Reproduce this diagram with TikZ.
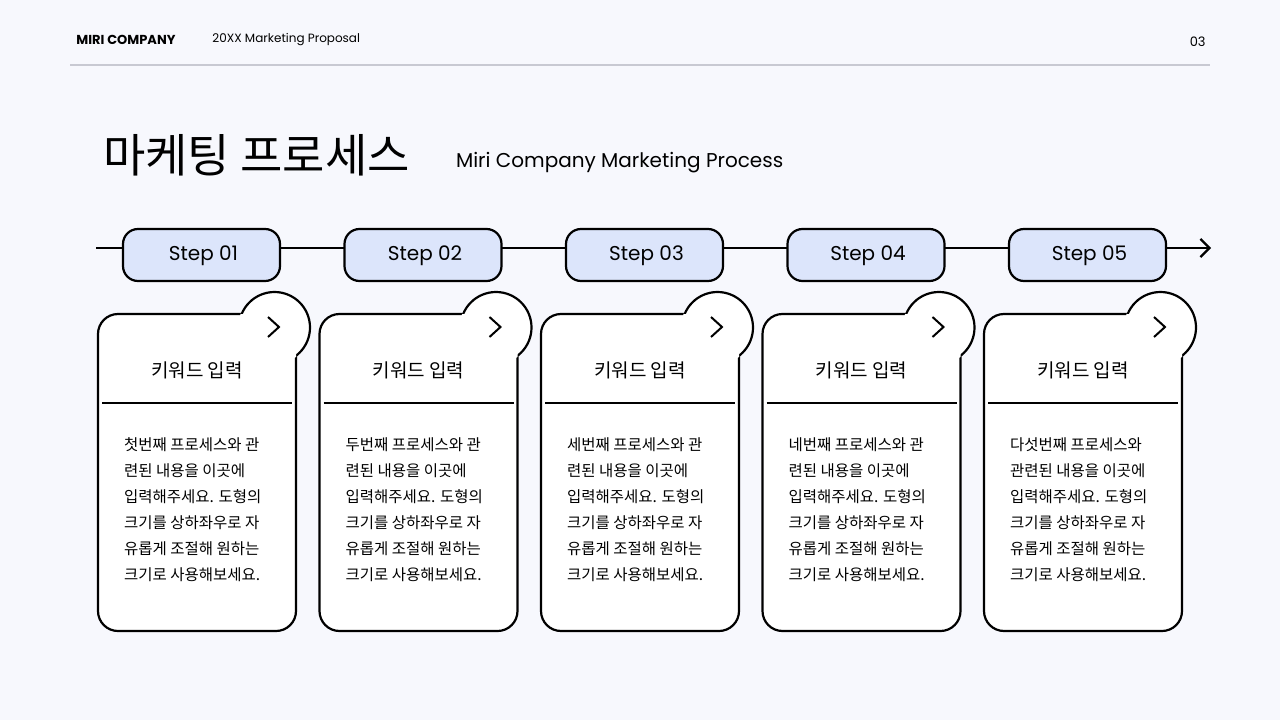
\documentclass[tikz,border=0pt]{standalone}
\usepackage{fontspec}
\setmainfont{Poppins}
\newfontfamily\kr{Noto Sans CJK KR}
\usetikzlibrary{arrows.meta}
\definecolor{bg}{HTML}{F7F8FD}
\definecolor{pill}{HTML}{DCE5FB}
\definecolor{rule}{HTML}{C8C9D2}
\begin{document}
\begin{tikzpicture}[x=1pt,y=-1pt,line width=2.2pt,
  pillbox/.style={draw=black,fill=pill,rounded corners=15pt,minimum width=157pt,minimum height=52pt,font=\fontsize{20}{20}\selectfont},
  cardtitle/.style={font=\kr\fontsize{19}{19}\selectfont},
  cardbody/.style={font=\kr\fontsize{15.5}{26}\selectfont,align=left,anchor=north west,inner sep=0pt}]
\fill[bg] (0,0) rectangle (1280,720);
\useasboundingbox (0,0) rectangle (1280,720);
\node[anchor=west,font=\bfseries\fontsize{13}{13}\selectfont] (co) at (72,40) {MIRI COMPANY};
\node[anchor=west,font=\fontsize{12}{12}\selectfont] (mp) at (208,40) {20XX Marketing Proposal};
\node[anchor=east,font=\fontsize{13}{13}\selectfont] (pg) at (1210,42) {03};
\draw[rule,line width=1.5pt] (70,65) coordinate (h1) -- (1210,65) coordinate (h2);
\node[anchor=west,font=\kr\fontsize{46}{46}\selectfont,inner sep=0pt] (title) at (102,155) {마케팅 프로세스};
\node[anchor=west,font=\fontsize{20}{20}\selectfont,inner sep=0pt] (sub) at (455,163) {Miri Company Marketing Process};
\coordinate (a0) at (96,248);
\coordinate (a1) at (1211,248);
\draw[-{Straight Barb[length=9pt,width=18pt]}] (a0) -- (a1);
\foreach \i/\nm/\txt in {0/01/첫번째 프로세스와 관\\련된 내용을 이곳에,1/02/두번째 프로세스와 관\\련된 내용을 이곳에,2/03/세번째 프로세스와 관\\련된 내용을 이곳에,3/04/네번째 프로세스와 관\\련된 내용을 이곳에,4/05/다섯번째 프로세스와\\관련된 내용을 이곳에}{
  \pgfmathsetmacro{\dx}{221.5*\i}
  \begin{scope}[xshift=\dx]
  \node[pillbox] (p\i) at (201.5,255) {};
  \node[font=\fontsize{20}{20}\selectfont] (q\i) at (203.5,256) {Step \nm};
  \fill[white,rounded corners=20pt] (98,314) -- (98,631) -- (296,631) -- (296,314) -- cycle;
  \filldraw[fill=white] (274.5,327.5) circle (35.5);
  \fill[white,rounded corners=20pt] (98,314) -- (98,631) -- (296,631) -- (296,314) -- cycle;
  \begin{scope}[even odd rule]
  \clip (50,200) rectangle (400,700) (274.5,327.5) circle (36.6);
  \draw[rounded corners=20pt] (98,314) -- (98,631) -- (296,631) -- (296,314) -- cycle;
  \end{scope}
  \draw[line width=2pt] (268,317) coordinate (c\i a) -- (279,327) -- (268,337);
  \node[cardtitle] (t\i) at (197,370) {키워드 입력};
  \draw (102,403) coordinate (l\i a) -- (292,403) coordinate (l\i b);
  \node[cardbody] (b\i) at (123,437) {\txt\\입력해주세요. 도형의\\크기를 상하좌우로 자\\유롭게 조절해 원하는\\크기로 사용해보세요.};
  \end{scope}
}
\end{tikzpicture}
\end{document}
